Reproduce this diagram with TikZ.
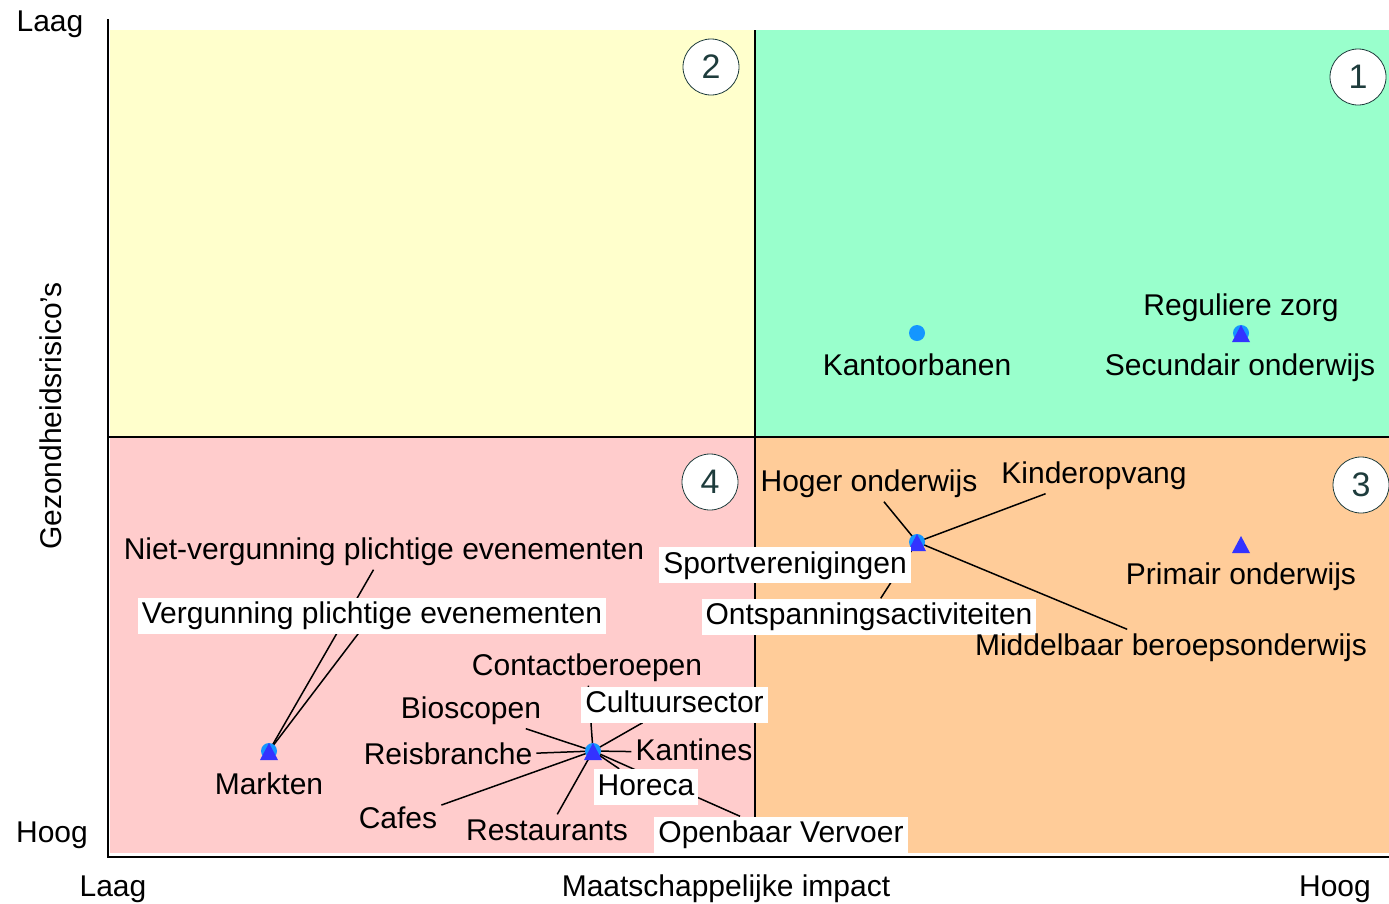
\documentclass[tikz,border=0pt]{standalone}
\usepackage{fontspec}
\setmainfont{Liberation Sans}
\definecolor{qyel}{RGB}{255,255,204}
\definecolor{qgrn}{RGB}{153,255,204}
\definecolor{qpnk}{RGB}{255,204,204}
\definecolor{qorg}{RGB}{255,204,153}
\definecolor{cblue}{RGB}{20,150,255}
\definecolor{tblue}{RGB}{51,51,255}
\definecolor{numc}{RGB}{30,60,60}
\pgfdeclarelayer{fg}
\pgfsetlayers{main,fg}
\tikzset{
  lab/.style={font=\fontsize{30}{36}\selectfont, inner xsep=4pt, inner ysep=3pt, text height=23pt, text depth=7pt},
  wlab/.style={lab, fill=white},
  conn/.style={line width=1.5pt},
  num/.style={circle, draw=numc, fill=white, minimum size=56pt, inner sep=0pt, font=\fontsize{34}{40}\selectfont, text=numc, line width=0.8pt},
  axlab/.style={font=\fontsize{30}{36}\selectfont},
  both/.pic={\fill[cblue] (0,0) circle (8pt); \fill[tblue] (0,-8) -- (9,9) -- (-9,9) -- cycle;},
  circonly/.pic={\fill[cblue] (0,0) circle (8pt);},
  trionly/.pic={\fill[tblue] (0,-8) -- (9,9) -- (-9,9) -- cycle;}
}
\begin{document}
\begin{tikzpicture}[x=1pt,y=-1pt]
\useasboundingbox (0,0) rectangle (1389,903);
% quadrants
\fill[qyel] (110,30) rectangle (755,437);
\fill[qgrn] (755,30) rectangle (1389,437);
\fill[qpnk] (110,437) rectangle (755,853);
\fill[qorg] (755,437) rectangle (1389,853);
\draw[line width=1.5pt] (755,30) -- (755,853);
\draw[line width=1.5pt] (108,437) -- (1389,437);
\draw[line width=2pt] (108,19) -- (108,857) -- (1389,857);
% points
\coordinate (pKan) at (917,333);
\coordinate (pReg) at (1241,333);
\coordinate (pSpo) at (917,542);
\coordinate (pPri) at (1241,544);
\coordinate (pMar) at (269,751);
\coordinate (pHor) at (593,751);
% labels
\begin{pgfonlayer}{fg}
\node[lab] (lKan) at (917,367.5) {Kantoorbanen};
\node[lab] (lReg) at (1241,307.5) {Reguliere zorg};
\node[lab] (lSec) at (1240,367.5) {Secundair onderwijs};
\node[lab] (lHog) at (869,483.5) {Hoger onderwijs};
\node[lab] (lKin) at (1094,475.5) {Kinderopvang};
\node[wlab] (lSpo) at (785,565) {Sportverenigingen};
\node[wlab] (lOnt) at (869,616.5) {Ontspanningsactiviteiten};
\node[lab] (lPri) at (1241,576.5) {Primair onderwijs};
\node[lab] (lMid) at (1171,647.5) {Middelbaar beroepsonderwijs};
\node[lab] (lNie) at (384,551.5) {Niet-vergunning plichtige evenementen};
\node[wlab] (lVer) at (372,615.5) {Vergunning plichtige evenementen};
\node[lab] (lMar) at (269,786.5) {Markten};
\node[lab] (lCon) at (587,667.5) {Contactberoepen};
\node[wlab] (lCul) at (674.5,704.5) {Cultuursector};
\node[lab] (lBio) at (471,710.5) {Bioscopen};
\node[lab] (lRei) at (448,756.5) {Reisbranche};
\node[lab] (lKat) at (694,752.5) {Kantines};
\node[wlab] (lHre) at (646,787) {Horeca};
\node[wlab] (lOV) at (781,834.5) {Openbaar Vervoer};
\node[lab] (lCaf) at (398,820.5) {Cafes};
\node[lab] (lRes) at (547,832.5) {Restaurants};
% numbered circles
\node[num] (n2) at (711,67) {2};
\node[num] (n1) at (1358,77) {1};
\node[num] (n4) at (710,482) {4};
\node[num] (n3) at (1361,485) {3};
% axis labels
\node[axlab] (ayl) at (50,24) {Laag};
\node[axlab] (ayh) at (52,835) {Hoog};
\node[axlab] (axl) at (113,889) {Laag};
\node[axlab] (axt) at (726,889) {Maatschappelijke impact};
\node[axlab] (axh) at (1335,889) {Hoog};
\node[axlab, rotate=90] (ayt) at (51,416) {Gezondheidsrisico’s};
\end{pgfonlayer}
% connectors
\draw[conn] (pMar) -- (lNie);
\draw[conn] (pMar) -- (lVer);
\foreach \t in {lCon,lCul,lBio,lRei,lKat,lHre,lOV,lCaf,lRes}
  \draw[conn] (pHor) -- (\t);
\foreach \t in {lHog,lKin,lOnt,lMid}
  \draw[conn] (pSpo) -- (\t);
% markers
\pic at (pKan) {circonly};
\pic at (pReg) {both};
\pic at (pSpo) {both};
\pic at (pPri) {trionly};
\pic at (pMar) {both};
\pic at (pHor) {both};
\end{tikzpicture}
\end{document}
